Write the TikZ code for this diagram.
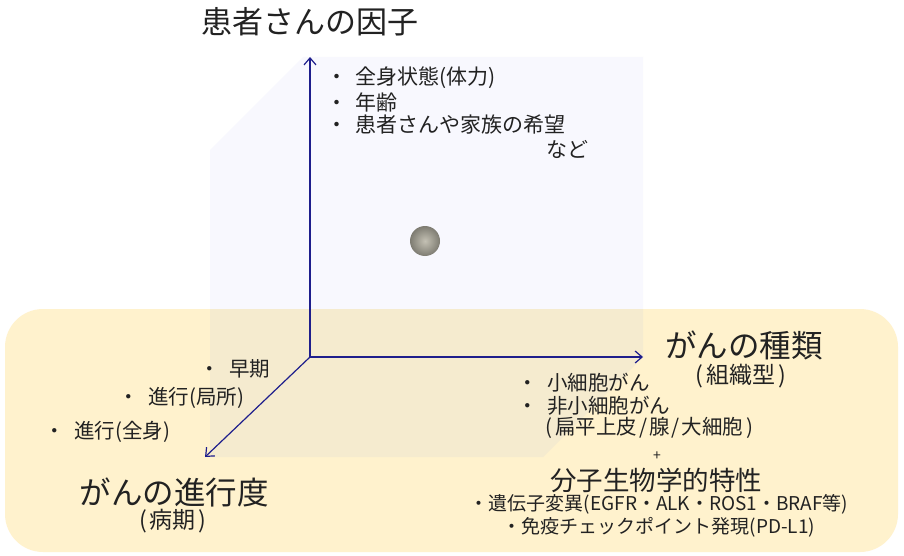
\documentclass[tikz,border=0pt]{standalone}
\usepackage{fontspec}
\setmainfont{Noto Sans CJK JP}
\usetikzlibrary{arrows.meta}

\definecolor{panel}{HTML}{F8F8FE}
\definecolor{base}{HTML}{FFF2CD}
\definecolor{overlap}{HTML}{F5EBCF}
\definecolor{axis}{RGB}{30,30,140}
\definecolor{ink}{HTML}{222222}
\definecolor{ballin}{HTML}{C4C1B4}
\definecolor{ballout}{HTML}{7E7C72}

% bullet placed to the left of the text start
\newcommand\bul[1]{\llap{・\hspace{#1}}}
\newcommand\fs[1]{\fontsize{#1}{#1}\selectfont}
% loosely spaced brackets and slash
\newcommand\lpar{(\hspace{3pt}}
\newcommand\rpar{\hspace{3pt})}
\newcommand\sla{\hspace{2pt}/\hspace{2pt}}

\tikzset{
  axisline/.style={draw=axis, line width=1.2pt, -{Straight Barb[length=7pt,width=12pt,line width=1.2pt]}},
  lbl/.style={inner sep=0pt, text=ink},
}

\begin{document}
\begin{tikzpicture}[x=1pt, y=-1pt]
\useasboundingbox (0,0) rectangle (904,556);
\fill[white] (0,0) rectangle (904,556);

% back wall of the box
\fill[panel] (303,57) -- (643,57) -- (643,357) -- (543,457) -- (210,457) -- (210,150) -- cycle;

% floor band
\fill[base, rounded corners=38pt] (5,309) rectangle (898,552);
\begin{scope}
  \clip[rounded corners=38pt] (5,309) rectangle (898,552);
  \fill[overlap] (303,57) -- (643,57) -- (643,357) -- (543,457) -- (210,457) -- (210,150) -- cycle;
\end{scope}

% axes
\coordinate (o) at (310,357);
\coordinate (yt) at (310,57);
\coordinate (xt) at (643,357);
\coordinate (zt) at (205,457);
\draw[axisline] (o) -- (yt);
\draw[axisline] (o) -- (xt);
\draw[axisline] (o) -- (zt);

% sphere
\shade[inner color=ballin, outer color=ballout] (425,241) circle (15);

% patient factors
\node[lbl, font=\fs{31}] (ttl) at (310,22) {患者さんの因子};
\node[lbl, anchor=west, font=\fs{21}] (p1) at (355,78) {\bul{8pt}全身状態(体力)};
\node[lbl, anchor=west, font=\fs{21}] (p2) at (355,102) {\bul{8pt}年齢};
\node[lbl, anchor=west, font=\fs{21}] (p3) at (355,125) {\bul{8pt}患者さんや家族の希望};
\node[lbl, anchor=west, font=\fs{21}] (p4) at (546,149) {など};

% cancer type
\node[lbl, font=\fs{31.5}] (kind) at (744,345) {がんの種類};
\node[lbl, font=\fs{23}] (kind2) at (741,376) {\lpar 組織型\rpar};
\node[lbl, anchor=west, font=\fs{20.5}] (k1) at (547,383) {\bul{9pt}小細胞がん};
\node[lbl, anchor=west, font=\fs{20.5}] (k2) at (547,406) {\bul{9pt}非小細胞がん};
\node[lbl, anchor=west, font=\fs{20.5}] (k3) at (545,428) {\lpar 扁平上皮\sla 腺\sla 大細胞\rpar};
\node[lbl, font=\fs{14}] (plus) at (657,456) {+};
\node[lbl, font=\fs{26.5}] (mol) at (656,480) {分子生物学的特性};
\node[lbl, font=\fs{19}] (m1) at (659,504) {・遺伝子変異(EGFR・ALK・ROS1・BRAF等)};
\node[lbl, font=\fs{19}] (m2) at (659,527) {・免疫チェックポイント発現(PD-L1)};

% stage
\node[lbl, anchor=west, font=\fs{20.5}] (s1) at (229,369) {\bul{9pt}早期};
\node[lbl, anchor=west, font=\fs{20.5}] (s2) at (148,398) {\bul{9pt}進行(局所)};
\node[lbl, anchor=west, font=\fs{20.5}] (s3) at (74,432) {\bul{9pt}進行(全身)};
\node[lbl, font=\fs{31.5}] (stage) at (174,492) {がんの進行度};
\node[lbl, font=\fs{23}] (stage2) at (173,521) {\lpar 病期\rpar};
\end{tikzpicture}
\end{document}
